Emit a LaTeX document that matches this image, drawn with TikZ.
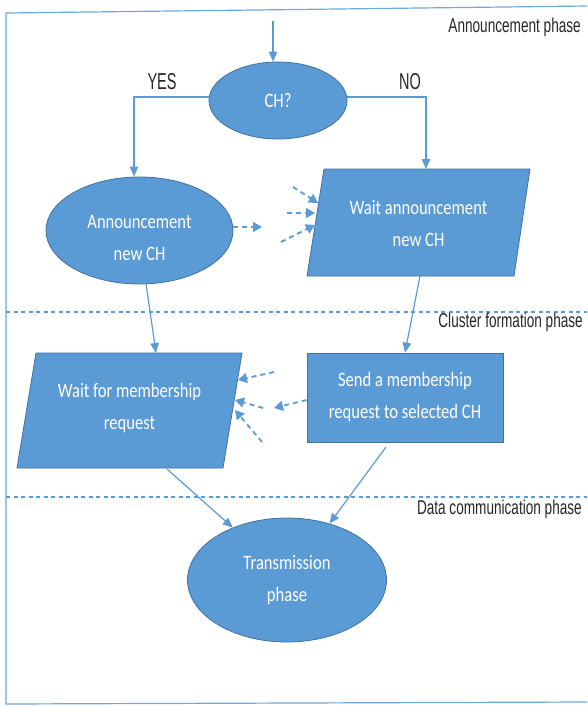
\documentclass[tikz,border=0pt]{standalone}
\usepackage{fontspec}
\usetikzlibrary{shapes.geometric,arrows.meta,calc}
\newfontfamily\boxfont{Carlito}[FakeStretch=0.81]
\newfontfamily\phasefont{Liberation Sans}[FakeStretch=0.68]
\newfontfamily\branchfont{Liberation Sans}[FakeStretch=0.63]
\definecolor{shapefill}{HTML}{5B9BD5}
\definecolor{shapeline}{HTML}{41719C}
\definecolor{linkblue}{HTML}{5B9BD5}
\definecolor{frameblue}{HTML}{6FA8DC}
\tikzset{
  boxtext/.style={text=white, align=center, inner sep=0pt,
    font=\boxfont\fontsize{20.5}{32}\selectfont},
  bubble/.style={ellipse, fill=shapefill, draw=shapeline, line width=0.8pt,
    inner sep=0pt, boxtext},
  slab/.style={fill=shapefill, draw=shapeline, line width=0.8pt},
  flow/.style={draw=linkblue, line width=1.2pt,
    -{Triangle[length=10pt,width=8.5pt]}},
  dflow/.style={draw=linkblue, line width=1.8pt, dash pattern=on 5pt off 4pt,
    -{Triangle[length=9pt,width=10pt]}},
  divider/.style={draw=linkblue, line width=1.2pt, dash pattern=on 4pt off 3.5pt},
  outline/.style={draw=frameblue, line width=1.2pt},
  phase/.style={anchor=east, inner sep=0pt, text=black!85,
    font=\phasefont\fontsize{20}{24}\selectfont},
  branch/.style={inner sep=0pt, text=black!85,
    font=\branchfont\fontsize{23}{26}\selectfont},
}
\begin{document}
\begin{tikzpicture}[x=1pt,y=-1pt]
\useasboundingbox (0,0) rectangle (587,706);

% outer frame (right side runs off the page)
\draw[outline] (587,6) -- (6,13) -- (6,704) -- (587,702);

% phase separators and titles
\draw[divider] (6,312) -- (587,312);
\draw[divider] (6,497) -- (587,497);
\node[phase] (ph1) at (581,27) {Announcement phase};
\node[phase] (ph2) at (583,322) {Cluster formation phase};
\node[phase] (ph3) at (582,509) {Data communication phase};

% ---- announcement phase ----
\node[bubble, minimum width=138pt, minimum height=77pt] (ch) at (278,100.5) {CH?};
\coordinate (entry) at (273,21);
\draw[flow] (entry) -- (entry |- ch.north);

\node[bubble, minimum width=187pt, minimum height=107pt] (ann) at (139.5,230.5) {};
\node[boxtext] (anntext) at (139.5,237.5) {Announcement\\new CH};

\coordinate (wa-bl) at (307,276);
\coordinate (wa-tl) at (324,169);
\coordinate (wa-tr) at (530,169);
\coordinate (wa-br) at (514,276);
\filldraw[slab] (wa-bl) -- (wa-tl) -- (wa-tr) -- (wa-br) -- cycle;
\node[boxtext] (waitann) at (418.5,224) {Wait announcement\\new CH};

\node[branch] (yes) at (162,82) {YES};
\node[branch] (no) at (410,82) {NO};
\coordinate (wa-in) at (426,169);
\draw[flow] ([yshift=3.5pt]ch.west) -| ([xshift=-5.5pt]ann.north);
\draw[flow] ([yshift=3.5pt]ch.east) -| (wa-in);

% broadcast of the new cluster head
\coordinate (b0) at (262,227);
\draw[dflow] ([yshift=3.5pt]ann.east) -- (b0);
\coordinate (b1s) at (293,187);
\coordinate (b1e) at (318,203);
\coordinate (b2s) at (287,213);
\coordinate (b2e) at (315,213);
\coordinate (b3s) at (281,242);
\coordinate (b3e) at (315,225);
\draw[dflow] (b1s) -- (b1e);
\draw[dflow] (b2s) -- (b2e);
\draw[dflow] (b3s) -- (b3e);

% ---- cluster formation phase ----
\coordinate (wm-bl) at (17,468);
\coordinate (wm-tl) at (36,353);
\coordinate (wm-tr) at (242,353);
\coordinate (wm-br) at (223,468);
\filldraw[slab] (wm-bl) -- (wm-tl) -- (wm-tr) -- (wm-br) -- cycle;
\node[boxtext] (waitmem) at (129.5,408.5) {Wait for membership\\request};

\node[rectangle, slab, boxtext, minimum width=196pt, minimum height=89pt]
  (send) at (405,397.5) {Send a membership\\request to selected CH};

\coordinate (wm-in) at (156,353);
\coordinate (wa-out) at (420,276);
\draw[flow] (ann.-83) -- (wm-in);
\draw[flow] (wa-out) -- (send.north);

% membership requests
\coordinate (r0) at (274,408);
\draw[dflow] ([yshift=-2.5pt]send.west) -- (r0);
\coordinate (r1s) at (274,372);
\coordinate (r1e) at (238,380);
\coordinate (r2s) at (263,408);
\coordinate (r2e) at (235,400);
\coordinate (r3s) at (262,442);
\coordinate (r3e) at (235,410);
\draw[dflow] (r1s) -- (r1e);
\draw[dflow] (r2s) -- (r2e);
\draw[dflow] (r3s) -- (r3e);

% ---- data communication phase ----
\node[bubble, minimum width=199pt, minimum height=124pt] (tx) at (287,580)
  {Transmission\\phase};
\coordinate (wm-out) at (167,469);
\coordinate (send-out) at (386,447);
\draw[flow] (wm-out) -- (tx.136);
\draw[flow] (send-out) -- (tx.53);
\end{tikzpicture}
\end{document}
